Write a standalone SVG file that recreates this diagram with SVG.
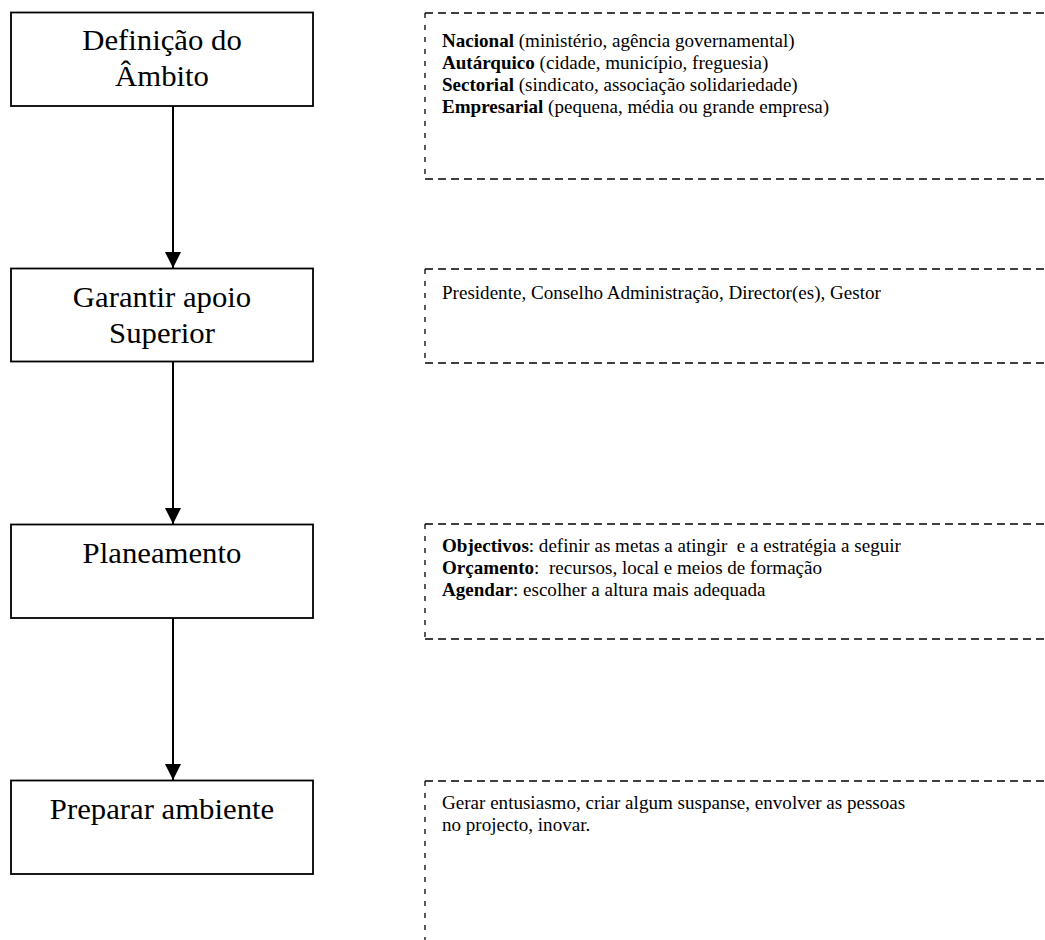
<svg xmlns="http://www.w3.org/2000/svg" width="1045" height="940" viewBox="0 0 1045 940">
  <defs>
    <marker id="arrow" markerUnits="userSpaceOnUse" markerWidth="18" markerHeight="16" refX="16" refY="8" orient="auto">
      <path d="M0,0 L16,8 L0,16 Z" fill="#000"/>
    </marker>
    <style>
      .step { fill: #fff; stroke: #000; stroke-width: 1.8; }
      .step-label { font-family: "Liberation Serif", "Times New Roman", serif; font-size: 29px; fill: #000; text-anchor: middle; }
      .note-h { fill: none; stroke: #000; stroke-width: 1.3; stroke-dasharray: 8 5; }
      .note-v { fill: none; stroke: #000; stroke-width: 1.3; stroke-dasharray: 5 7; }
      .note-text { font-family: "Liberation Serif", "Times New Roman", serif; font-size: 18px; fill: #000; white-space: pre; }
      .b { font-weight: bold; }
      .flow { stroke: #000; stroke-width: 2; fill: none; }
    </style>
  </defs>

  <rect width="1045" height="940" fill="#fff"/>

  <!-- process steps -->
  <g id="step-ambito">
    <rect class="step" x="11" y="12.5" width="302" height="93.5"/>
    <g transform="translate(162 0) scale(1.06 1) translate(-162 0)">
      <text class="step-label" x="162" y="50">Definição do</text>
      <text class="step-label" x="162" y="86.5">Âmbito</text>
    </g>
  </g>

  <g id="step-apoio">
    <rect class="step" x="11" y="268.5" width="302" height="93"/>
    <g transform="translate(162 0) scale(1.06 1) translate(-162 0)">
      <text class="step-label" x="162" y="307.5">Garantir apoio</text>
      <text class="step-label" x="162" y="343">Superior</text>
    </g>
  </g>

  <g id="step-planeamento">
    <rect class="step" x="11" y="524.5" width="302" height="93.5"/>
    <g transform="translate(162 0) scale(1.06 1) translate(-162 0)">
      <text class="step-label" x="162" y="563.5">Planeamento</text>
    </g>
  </g>

  <g id="step-ambiente">
    <rect class="step" x="11" y="780.5" width="302" height="93.5"/>
    <g transform="translate(162 0) scale(1.06 1) translate(-162 0)">
      <text class="step-label" x="162" y="819">Preparar ambiente</text>
    </g>
  </g>

  <!-- notes beside each step -->
  <g id="note-ambito">
    <path class="note-h" d="M425,13 H1060 M425,179 H1060"/>
    <path class="note-v" d="M425,13 V179"/>
    <g class="note-text" transform="translate(442 0) scale(1.06 1) translate(-442 0)">
      <text x="442" y="47"><tspan class="b">Nacional</tspan> (ministério, agência governamental)</text>
      <text x="442" y="69"><tspan class="b">Autárquico</tspan> (cidade, município, freguesia)</text>
      <text x="442" y="91"><tspan class="b">Sectorial</tspan> (sindicato, associação solidariedade)</text>
      <text x="442" y="113"><tspan class="b">Empresarial</tspan> (pequena, média ou grande empresa)</text>
    </g>
  </g>

  <g id="note-apoio">
    <path class="note-h" d="M425,269 H1060 M425,363 H1060"/>
    <path class="note-v" d="M425,269 V363"/>
    <g class="note-text" transform="translate(442 0) scale(1.06 1) translate(-442 0)">
      <text x="442" y="299">Presidente, Conselho Administração, Director(es), Gestor</text>
    </g>
  </g>

  <g id="note-planeamento">
    <path class="note-h" d="M425,524 H1060 M425,639 H1060"/>
    <path class="note-v" d="M425,524 V639"/>
    <g class="note-text" transform="translate(442 0) scale(1.06 1) translate(-442 0)">
      <text x="442" y="552" xml:space="preserve"><tspan class="b">Objectivos</tspan>: definir as metas a atingir  e a estratégia a seguir</text>
      <text x="442" y="574" xml:space="preserve"><tspan class="b">Orçamento</tspan>:  recursos, local e meios de formação</text>
      <text x="442" y="596"><tspan class="b">Agendar</tspan>: escolher a altura mais adequada</text>
    </g>
  </g>

  <g id="note-ambiente">
    <path class="note-h" d="M425,781 H1060"/>
    <path class="note-v" d="M425,781 V950"/>
    <g class="note-text" transform="translate(442 0) scale(1.06 1) translate(-442 0)">
      <text x="442" y="809">Gerar entusiasmo, criar algum suspanse, envolver as pessoas</text>
      <text x="442" y="831">no projecto, inovar.</text>
    </g>
  </g>

  <!-- connectors between steps -->
  <g id="connectors">
    <line class="flow" x1="173" y1="106" x2="173" y2="268" marker-end="url(#arrow)"/>
    <line class="flow" x1="173" y1="362" x2="173" y2="524" marker-end="url(#arrow)"/>
    <line class="flow" x1="173" y1="618" x2="173" y2="780" marker-end="url(#arrow)"/>
  </g>
</svg>
